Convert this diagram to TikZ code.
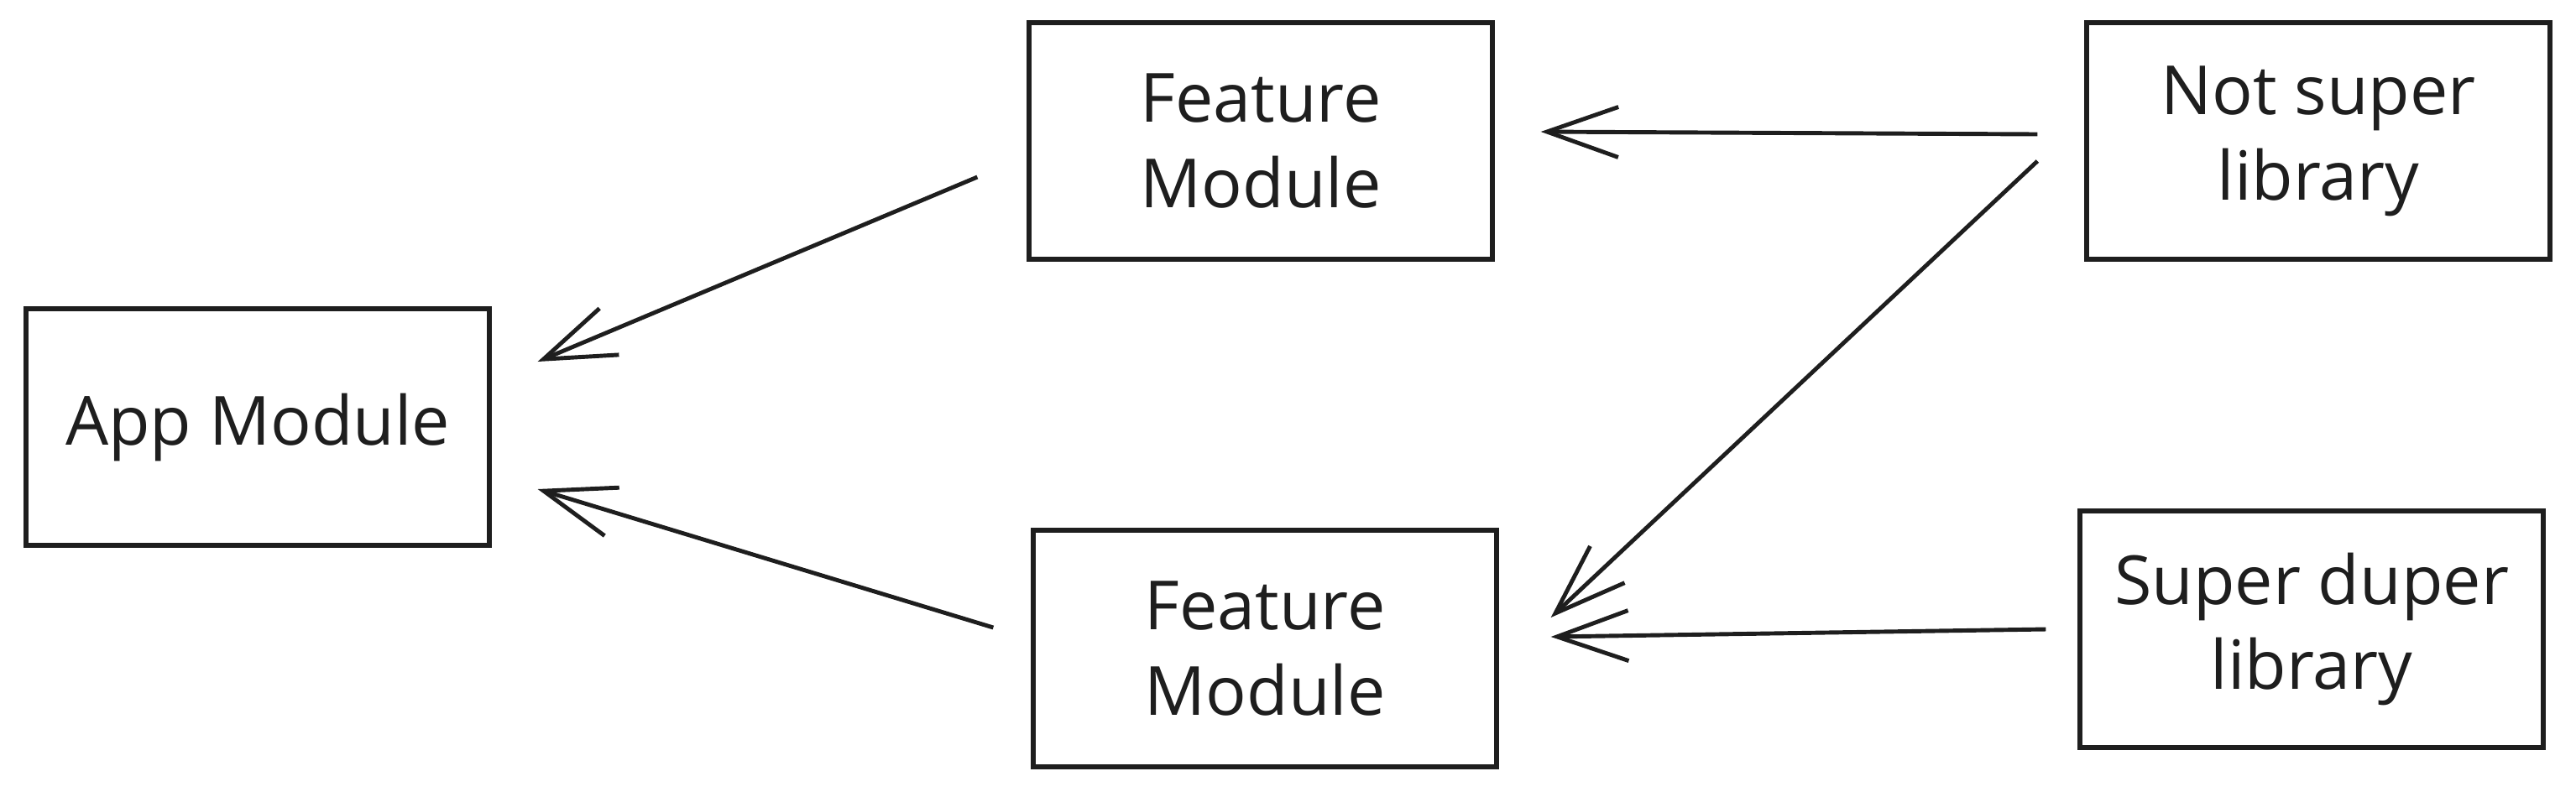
\documentclass[tikz,border=0pt]{standalone}
\usepackage{fontspec}
\setmainfont{Open Sans}
\usepackage{tikz}
\usetikzlibrary{arrows.meta,calc}
\definecolor{ink}{HTML}{1E1E1E}

\begin{document}
\begin{tikzpicture}[
    box/.style={draw=ink, line width=1.5pt, minimum width=5.52cm, minimum height=2.82cm,
      align=center, text=ink, font=\fontsize{23}{29}\selectfont},
    arr/.style={draw=ink, line width=1.4pt, -{Straight Barb[length=8.5mm,width=6mm,line width=1.4pt]}}
  ]
      \useasboundingbox (0,0) rectangle (30.69,-9.43);
      \node [box] (app) at (3.07,-5.09) {App Module};
      \node [box] (featA) at (15.02,-1.68) {Feature\\Module};
      \node [box] (featB) at (15.07,-7.73) {Feature\\Module};
      \node [box] (notsuper) at (27.62,-1.68) {Not super\\library};
      \node [box] (superduper) at (27.54,-7.50) {Super duper\\library};
      \draw [arr] ([xshift=-5.9mm,yshift=-4.3mm]featA.west) -- ([xshift=5.5mm,yshift=7.8mm]app.east);
      \draw [arr] ([xshift=-4.5mm,yshift=2.5mm]featB.west) -- ([xshift=5.5mm,yshift=-7.4mm]app.east);
      \draw [arr] ([xshift=-5.6mm,yshift=0.8mm]notsuper.west) -- ([xshift=5.5mm,yshift=1.1mm]featA.east);
      \draw [arr] ([xshift=-5.6mm,yshift=-2.4mm]notsuper.west) -- ([xshift=6.2mm,yshift=3.7mm]featB.east);
      \draw [arr] ([xshift=-3.8mm]superduper.west) -- ([xshift=6.2mm,yshift=1.4mm]featB.east);
\end{tikzpicture}
\end{document}
